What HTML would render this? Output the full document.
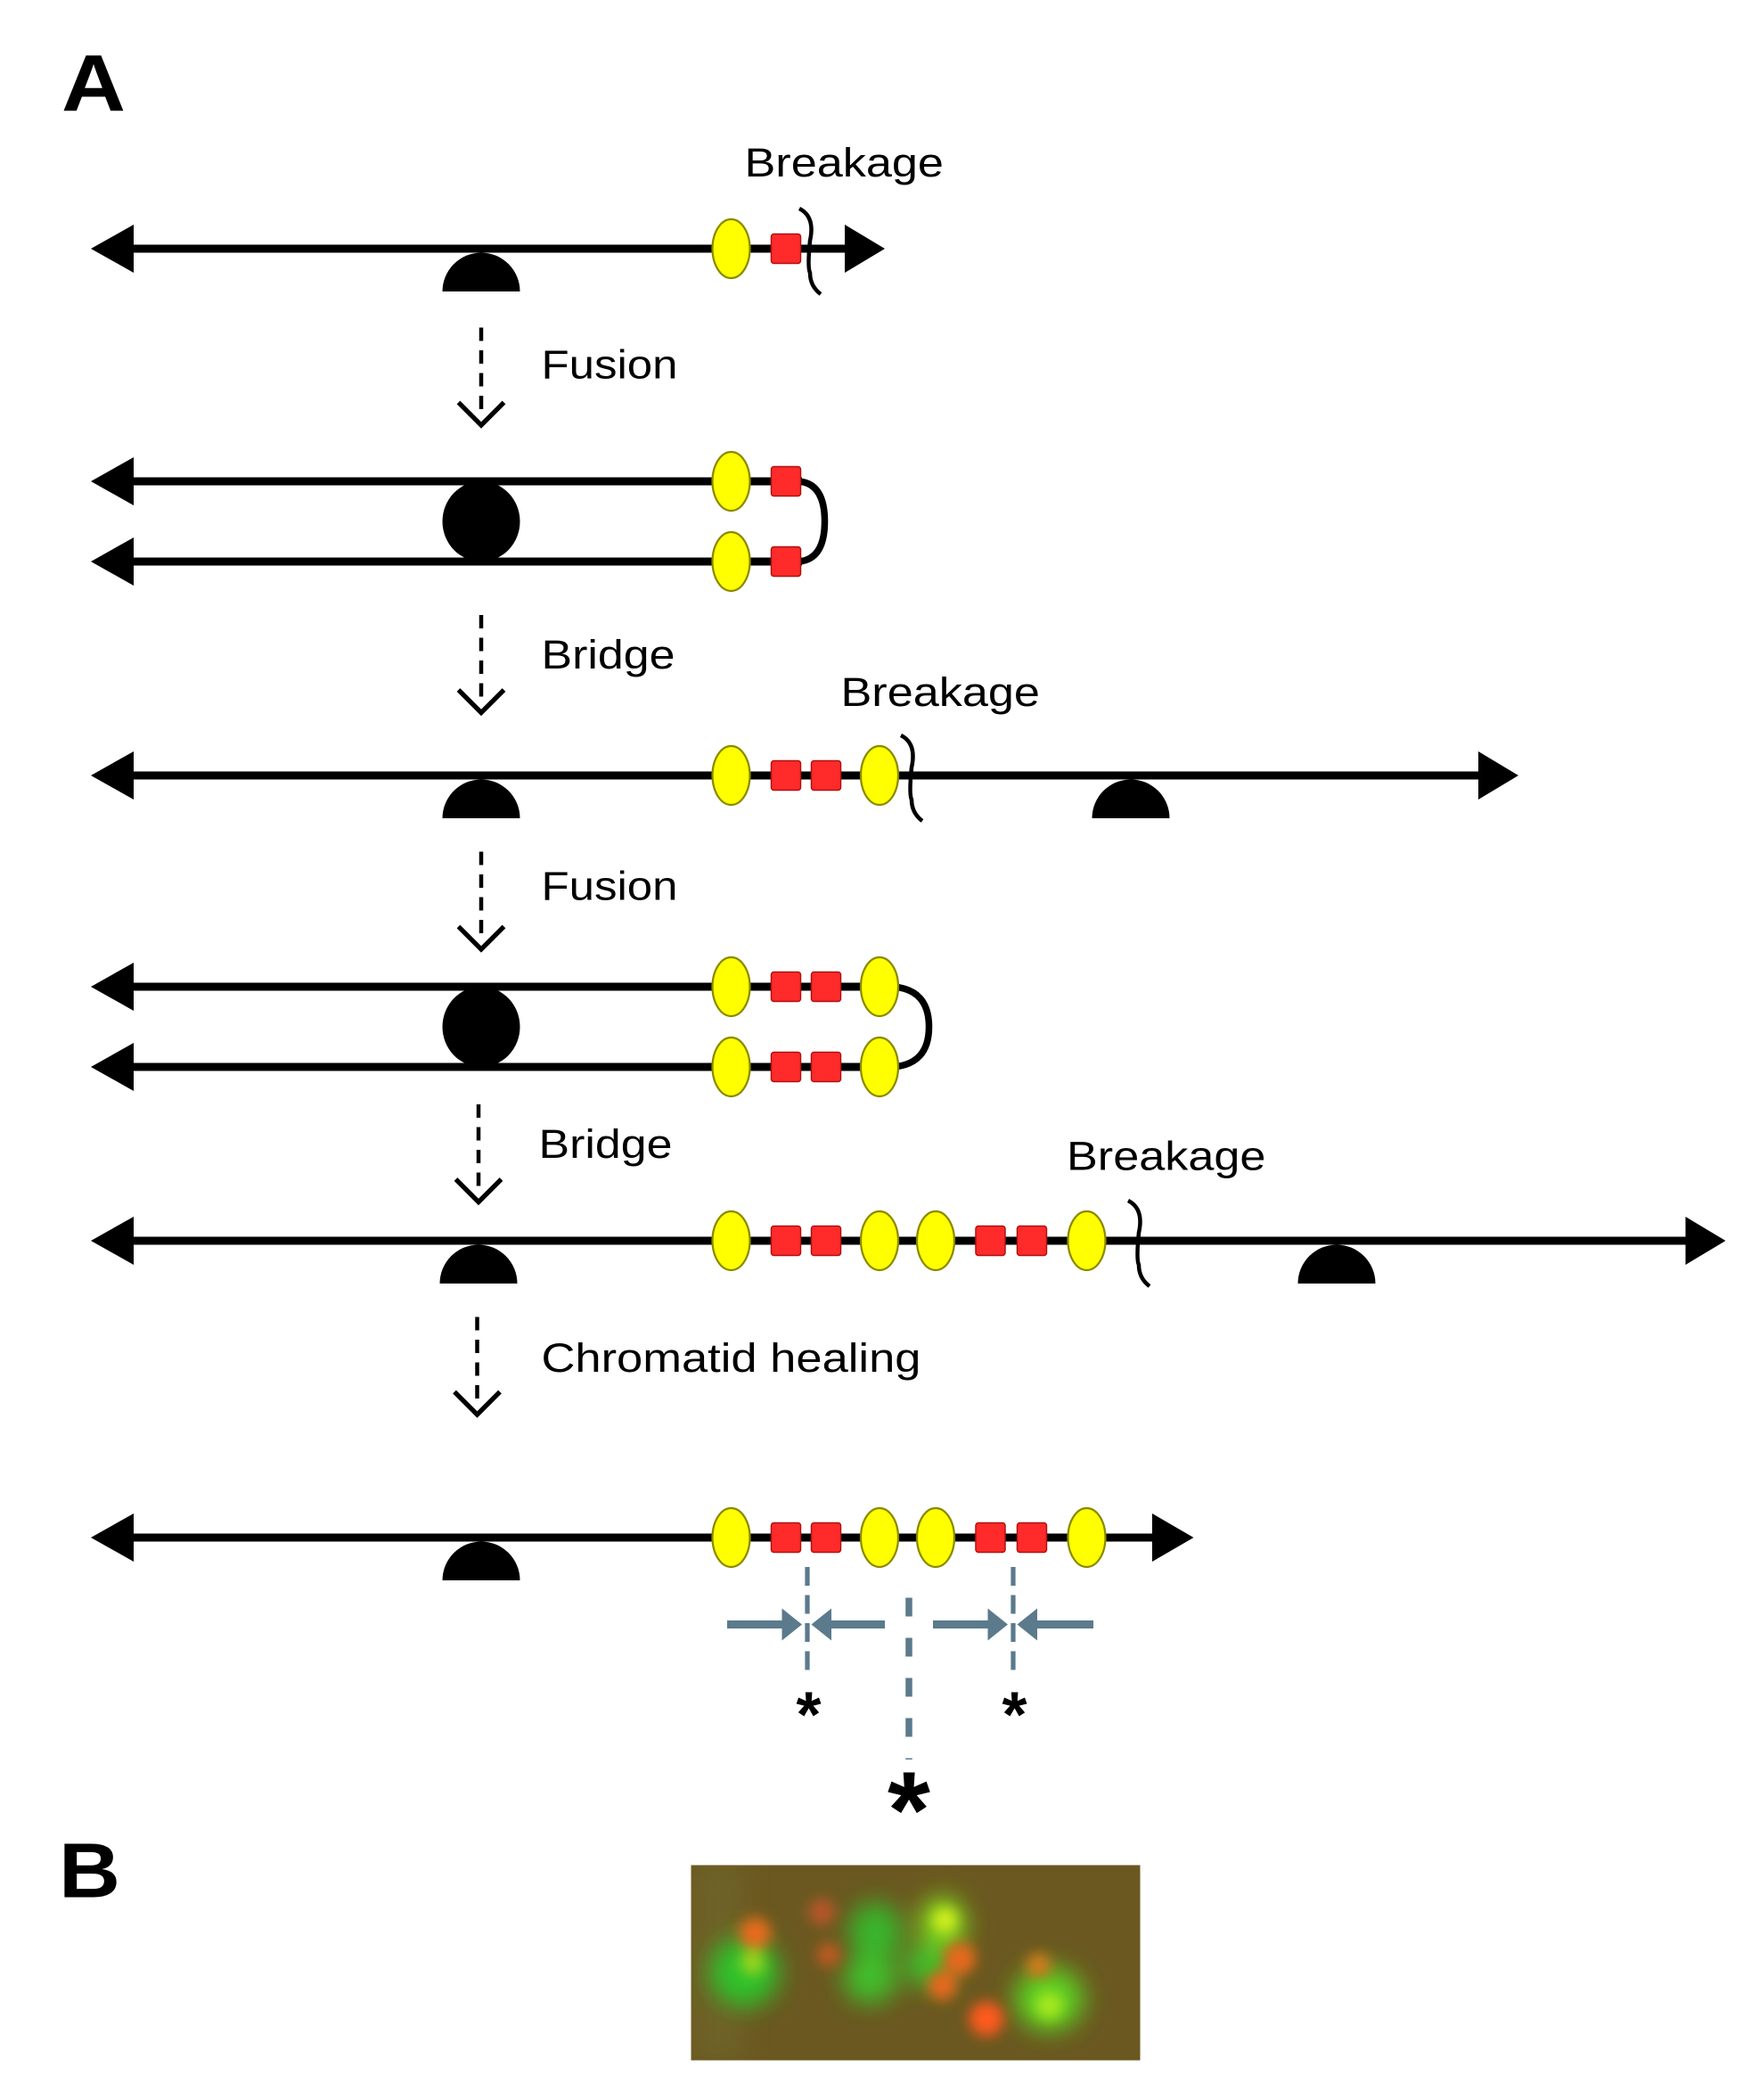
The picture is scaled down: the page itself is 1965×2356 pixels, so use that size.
<!DOCTYPE html>
<html><head><meta charset="utf-8"><style>
html,body{margin:0;padding:0;background:#fff;}
svg{display:block;}
text{font-family:"Liberation Sans",sans-serif;fill:#000;}
</style></head><body>
<svg width="1965" height="2356" viewBox="0 0 1310 1570.67" xmlns="http://www.w3.org/2000/svg">
<defs>
<g id="dome"><path d="M-29,0 A29,29 0 0 1 29,0 Z" fill="#000"/></g>
<ellipse id="ye" cx="0" cy="0" rx="14" ry="22" fill="#ffff00" stroke="#8a8a00" stroke-width="1.5"/>
<rect id="rs" x="-11" y="-11" width="22" height="22" rx="2" fill="#ff2a2a" stroke="#b01010" stroke-width="1"/>
<g id="darr"><line x1="0" y1="0" x2="0" y2="68" stroke="#000" stroke-width="3" stroke-dasharray="10,7"/><polyline points="-17,56 0,73 17,56" fill="none" stroke="#000" stroke-width="3.5"/></g>
<filter id="bl" x="-50%" y="-50%" width="200%" height="200%"><feGaussianBlur stdDeviation="9"/></filter>
<filter id="bl2" x="-50%" y="-50%" width="200%" height="200%"><feGaussianBlur stdDeviation="5"/></filter>
<clipPath id="pc"><rect x="517" y="1395" width="336" height="146"/></clipPath>
</defs>

<text x="46" y="83" font-size="60" font-weight="bold" textLength="48" lengthAdjust="spacingAndGlyphs">A</text>

<!-- Row 1 -->
<text x="557" y="132" font-size="30" textLength="149" lengthAdjust="spacingAndGlyphs">Breakage</text>
<line x1="90" y1="186" x2="640" y2="186" stroke="#000" stroke-width="6"/>
<polygon points="68,186 100,168 100,204" fill="#000"/>
<polygon points="662,186 632,168 632,204" fill="#000"/>
<use href="#dome" x="360" y="218"/>
<use href="#ye" x="547" y="186"/>
<use href="#rs" x="588" y="186"/>
<path d="M598,156 Q610,162 606,180 Q604,200 606,204 Q606,214 614,220" fill="none" stroke="#000" stroke-width="3"/>

<use href="#darr" x="360" y="245"/>
<text x="405" y="283" font-size="30" textLength="102" lengthAdjust="spacingAndGlyphs">Fusion</text>

<!-- Row 2 -->
<line x1="90" y1="360" x2="600" y2="360" stroke="#000" stroke-width="6"/>
<line x1="90" y1="420" x2="600" y2="420" stroke="#000" stroke-width="6"/>
<polygon points="68,360 100,342 100,378" fill="#000"/>
<polygon points="68,420 100,402 100,438" fill="#000"/>
<ellipse cx="360" cy="390" rx="29" ry="30" fill="#000"/>
<path d="M598,360 Q617,362 617,390 Q617,418 598,420" fill="none" stroke="#000" stroke-width="5"/>
<use href="#ye" x="547" y="360"/><use href="#rs" x="588" y="360"/>
<use href="#ye" x="547" y="420"/><use href="#rs" x="588" y="420"/>

<use href="#darr" x="360" y="460"/>
<text x="405" y="500" font-size="30" textLength="100" lengthAdjust="spacingAndGlyphs">Bridge</text>

<!-- Row 3 -->
<text x="629" y="528" font-size="30" textLength="149" lengthAdjust="spacingAndGlyphs">Breakage</text>
<line x1="90" y1="580" x2="1110" y2="580" stroke="#000" stroke-width="6"/>
<polygon points="68,580 100,562 100,598" fill="#000"/>
<polygon points="1136,580 1106,562 1106,598" fill="#000"/>
<use href="#dome" x="360" y="612"/>
<use href="#dome" x="846" y="612"/>
<use href="#ye" x="547" y="580"/><use href="#rs" x="588" y="580"/><use href="#rs" x="618" y="580"/><use href="#ye" x="658" y="580"/>
<path d="M674,550 Q686,556 682,574 Q680,594 682,598 Q682,608 690,614" fill="none" stroke="#000" stroke-width="3"/>

<use href="#darr" x="360" y="637"/>
<text x="405" y="673" font-size="30" textLength="102" lengthAdjust="spacingAndGlyphs">Fusion</text>

<!-- Row 4 -->
<line x1="90" y1="738" x2="670" y2="738" stroke="#000" stroke-width="6"/>
<line x1="90" y1="798" x2="670" y2="798" stroke="#000" stroke-width="6"/>
<polygon points="68,738 100,720 100,756" fill="#000"/>
<polygon points="68,798 100,780 100,816" fill="#000"/>
<ellipse cx="360" cy="768" rx="29" ry="30" fill="#000"/>
<path d="M668,738 Q695,740 695,768 Q695,796 668,798" fill="none" stroke="#000" stroke-width="5"/>
<use href="#ye" x="547" y="738"/><use href="#rs" x="588" y="738"/><use href="#rs" x="618" y="738"/><use href="#ye" x="658" y="738"/>
<use href="#ye" x="547" y="798"/><use href="#rs" x="588" y="798"/><use href="#rs" x="618" y="798"/><use href="#ye" x="658" y="798"/>

<use href="#darr" x="358" y="826"/>
<text x="403" y="866" font-size="30" textLength="100" lengthAdjust="spacingAndGlyphs">Bridge</text>

<!-- Row 5 -->
<text x="798" y="875" font-size="30" textLength="149" lengthAdjust="spacingAndGlyphs">Breakage</text>
<line x1="90" y1="928" x2="1265" y2="928" stroke="#000" stroke-width="6"/>
<polygon points="68,928 100,910 100,946" fill="#000"/>
<polygon points="1291,928 1261,910 1261,946" fill="#000"/>
<use href="#dome" x="358" y="960"/>
<use href="#dome" x="1000" y="960"/>
<use href="#ye" x="547" y="928"/><use href="#rs" x="588" y="928"/><use href="#rs" x="618" y="928"/><use href="#ye" x="658" y="928"/>
<use href="#ye" x="700" y="928"/><use href="#rs" x="741" y="928"/><use href="#rs" x="772" y="928"/><use href="#ye" x="813" y="928"/>
<path d="M844,898 Q856,904 852,922 Q850,942 852,946 Q852,956 860,962" fill="none" stroke="#000" stroke-width="3"/>

<use href="#darr" x="357" y="985"/>
<text x="405" y="1026" font-size="30" textLength="284" lengthAdjust="spacingAndGlyphs">Chromatid healing</text>

<!-- Row 6 -->
<line x1="90" y1="1150" x2="868" y2="1150" stroke="#000" stroke-width="6"/>
<polygon points="68,1150 100,1132 100,1168" fill="#000"/>
<polygon points="893,1150 862,1132 862,1168" fill="#000"/>
<use href="#dome" x="360" y="1182"/>
<use href="#ye" x="547" y="1150"/><use href="#rs" x="588" y="1150"/><use href="#rs" x="618" y="1150"/><use href="#ye" x="658" y="1150"/>
<use href="#ye" x="700" y="1150"/><use href="#rs" x="741" y="1150"/><use href="#rs" x="772" y="1150"/><use href="#ye" x="813" y="1150"/>

<!-- markers -->
<g stroke="#5b7a8c" fill="#5b7a8c">
<line x1="604" y1="1172" x2="604" y2="1250" stroke-width="3.5" stroke-dasharray="14,7" fill="none"/>
<line x1="758" y1="1172" x2="758" y2="1250" stroke-width="3.5" stroke-dasharray="14,7" fill="none"/>
<line x1="680" y1="1195" x2="680" y2="1316" stroke-width="5" stroke-dasharray="14,16" fill="none"/>
<line x1="544" y1="1215" x2="588" y2="1215" stroke-width="6"/>
<polygon points="600,1215 585,1203 585,1227" stroke="none"/>
<line x1="620" y1="1215" x2="662" y2="1215" stroke-width="6"/>
<polygon points="607,1215 622,1203 622,1227" stroke="none"/>
<line x1="698" y1="1215" x2="742" y2="1215" stroke-width="6"/>
<polygon points="754,1215 739,1203 739,1227" stroke="none"/>
<line x1="774" y1="1215" x2="818" y2="1215" stroke-width="6"/>
<polygon points="761,1215 776,1203 776,1227" stroke="none"/>
</g>
<text x="605" y="1299" font-size="48" font-weight="bold" text-anchor="middle">*</text>
<text x="759" y="1299" font-size="48" font-weight="bold" text-anchor="middle">*</text>
<text x="680" y="1382" font-size="82" font-weight="bold" text-anchor="middle">*</text>

<text x="44" y="1419" font-size="58" font-weight="bold" textLength="46" lengthAdjust="spacingAndGlyphs">B</text>

<!-- photo -->
<g clip-path="url(#pc)">
<rect x="517" y="1395" width="336" height="146" fill="#6a5820"/>
<rect x="517" y="1395" width="40" height="146" fill="#6e6228" filter="url(#bl)"/>
<g filter="url(#bl)">
<ellipse cx="557" cy="1475" rx="26" ry="26" fill="#2ec22a"/>
<ellipse cx="655" cy="1445" rx="20" ry="22" fill="#38b62a"/>
<ellipse cx="651" cy="1480" rx="20" ry="18" fill="#40c02a"/>
<ellipse cx="705" cy="1440" rx="18" ry="22" fill="#7ad01e"/>
<ellipse cx="695" cy="1470" rx="18" ry="16" fill="#40c02a"/>
<ellipse cx="785" cy="1495" rx="26" ry="24" fill="#5cd022"/>
</g>
<g filter="url(#bl2)">
<circle cx="565" cy="1446" r="12" fill="#e86a1a"/>
<circle cx="615" cy="1430" r="10" fill="#b8562a"/>
<circle cx="620" cy="1462" r="9" fill="#c05a22"/>
<circle cx="718" cy="1465" r="12" fill="#e8681a"/>
<circle cx="705" cy="1485" r="11" fill="#e8681a"/>
<circle cx="738" cy="1510" r="13" fill="#ff5a1a"/>
<circle cx="777" cy="1470" r="9" fill="#d87a1a"/>
<circle cx="563" cy="1468" r="9" fill="#9cd41e"/>
<circle cx="707" cy="1436" r="9" fill="#d8f01a"/>
<circle cx="785" cy="1500" r="10" fill="#a8e81a"/>
</g>
</g>
</svg>
</body></html>
